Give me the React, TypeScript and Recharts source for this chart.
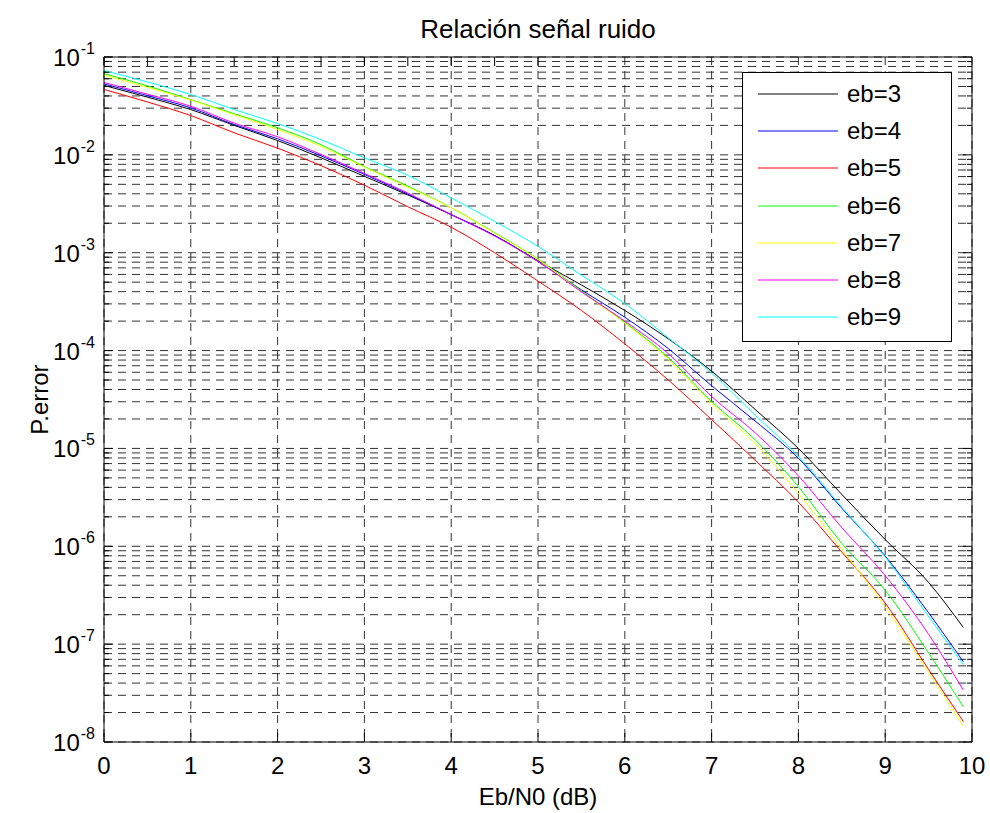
import React from "react";
import { LineChart, Line, XAxis, YAxis, CartesianGrid, Legend, Label } from "recharts";

// Eb/N0 (dB) sample points
const ebNo = [0, 0.5, 1, 1.5, 2, 2.5, 3, 3.5, 4, 4.5, 5, 5.5, 6, 6.5, 7, 7.5, 8, 8.5, 9, 9.5, 9.9];

// error probability per curve
const eb3 = [0.0513, 0.0389, 0.029, 0.02, 0.014, 0.00933, 0.00603, 0.00389, 0.00245, 0.0015, 8.3e-4, 4.68e-4, 2.57e-4, 1.32e-4, 6.17e-5, 2.51e-5, 1.0e-5, 3.39e-6, 1.17e-6, 4.27e-7, 1.48e-7];
const eb4 = [0.0531, 0.0403, 0.0302, 0.0204, 0.0146, 0.00977, 0.00631, 0.00398, 0.00245, 0.0015, 8.13e-4, 4.17e-4, 2.19e-4, 1.05e-4, 4.37e-5, 1.91e-5, 7.94e-6, 2.45e-6, 7.94e-7, 2.09e-7, 6.61e-8];
const eb5 = [0.0466, 0.0347, 0.0252, 0.0168, 0.0117, 0.00776, 0.0049, 0.00295, 0.00182, 0.001, 5.13e-4, 2.57e-4, 1.17e-4, 5.01e-5, 1.97e-5, 7.59e-6, 2.82e-6, 8.71e-7, 2.63e-7, 5.5e-8, 1.62e-8];
const eb6 = [0.0676, 0.0507, 0.0367, 0.0263, 0.0189, 0.0127, 0.00759, 0.00479, 0.00288, 0.0016, 8.6e-4, 4.07e-4, 1.95e-4, 8.51e-5, 3.02e-5, 1.23e-5, 4.07e-6, 1.07e-6, 3.55e-7, 8.13e-8, 2.29e-8];
const eb7 = [0.0652, 0.049, 0.0363, 0.0257, 0.0182, 0.0122, 0.0075, 0.00468, 0.00288, 0.00158, 8.51e-4, 3.98e-4, 1.91e-4, 8.13e-5, 2.88e-5, 1.12e-5, 3.47e-6, 9.33e-7, 2.4e-7, 5.13e-8, 1.45e-8];
const eb8 = [0.055, 0.0417, 0.0314, 0.0211, 0.0153, 0.0101, 0.00646, 0.00407, 0.00245, 0.00148, 8.13e-4, 3.98e-4, 2.0e-4, 9.33e-5, 3.39e-5, 1.45e-5, 5.25e-6, 1.55e-6, 5.01e-7, 1.26e-7, 3.39e-8];
const eb9 = [0.0728, 0.0556, 0.0414, 0.029, 0.0209, 0.0143, 0.00931, 0.00617, 0.00363, 0.00209, 0.00116, 5.89e-4, 3.02e-4, 1.35e-4, 5.89e-5, 2.19e-5, 8.32e-6, 2.51e-6, 7.76e-7, 1.91e-7, 6.17e-8];

const xTicks = [0, 1, 2, 3, 4, 5, 6, 7, 8, 9, 10];
const decades = [-8, -7, -6, -5, -4, -3, -2];
const mantissas = [1, 2, 3, 4, 5, 6, 7, 8, 9];

const series = [
  { key: "eb3", name: "eb=3", color: "#000000", values: eb3 },
  { key: "eb4", name: "eb=4", color: "#0000ff", values: eb4 },
  { key: "eb5", name: "eb=5", color: "#ff0000", values: eb5 },
  { key: "eb6", name: "eb=6", color: "#00ff00", values: eb6 },
  { key: "eb7", name: "eb=7", color: "#ffff00", values: eb7 },
  { key: "eb8", name: "eb=8", color: "#ff00ff", values: eb8 },
  { key: "eb9", name: "eb=9", color: "#00ffff", values: eb9 },
];

const rows = ebNo.map((x, i) => {
  const row: Record<string, number> = { x };
  series.forEach((s) => (row[s.key] = s.values[i]));
  return row;
});

const yTicks: number[] = [];
decades.forEach((d) => mantissas.forEach((m) => yTicks.push(Number((m * Math.pow(10, d)).toPrecision(3)))));
yTicks.push(0.1);

const FONT = "'Liberation Sans', Arial, Helvetica, sans-serif";
const Y_MARGIN = 9;
const X_MARGIN = 15;

const isMajor = (v: number) => {
  const e = Math.log10(v);
  return Math.abs(e - Math.round(e)) < 1e-6;
};

const LeftTick = (props: any) => {
  const { x, y, payload } = props;
  const major = isMajor(payload.value);
  const ax = x + Y_MARGIN;
  return (
    <g>
      <line x1={ax} x2={ax + (major ? 9 : 5)} y1={y} y2={y} stroke="#000" />
      {major && (
        <text x={x} y={y + 9} textAnchor="end" fontFamily={FONT} fontSize={24} fill="#000">
          <tspan>10</tspan>
          <tspan dx={1} dy={-12} fontSize={16}>{String(Math.round(Math.log10(payload.value)))}</tspan>
        </text>
      )}
    </g>
  );
};

const RightTick = (props: any) => {
  const { x, y, payload } = props;
  const major = isMajor(payload.value);
  return <line x1={x} x2={x - (major ? 9 : 5)} y1={y} y2={y} stroke="#000" />;
};

const BottomTick = (props: any) => {
  const { x, y, payload } = props;
  const ay = y - X_MARGIN;
  return (
    <g>
      <line x1={x} x2={x} y1={ay} y2={ay - 9} stroke="#000" />
      <text x={x} y={y} dy="0.71em" textAnchor="middle" fontFamily={FONT} fontSize={24} fill="#000">
        {payload.value}
      </text>
    </g>
  );
};

const TopTick = (props: any) => {
  const { x, y } = props;
  return <line x1={x} x2={x} y1={y} y2={y + 9} stroke="#000" />;
};

const LegendBox = (props: any) => {
  const items = props.payload && props.payload.length ? props.payload : series.map((s) => ({ value: s.name, color: s.color }));
  return (
    <div
      style={{
        width: 210,
        height: 270,
        boxSizing: "border-box",
        border: "1px solid #000",
        background: "#fff",
        paddingTop: 2,
        fontFamily: FONT,
        fontSize: 24,
        color: "#000",
      }}
    >
      {items.map((it: any) => (
        <div key={it.value} style={{ display: "flex", alignItems: "center", height: 37.3 }}>
          <svg width={104} height={10} style={{ display: "block" }}>
            <line x1={15} x2={95} y1={5} y2={5} stroke={it.color} strokeWidth={1} />
          </svg>
          <span style={{ lineHeight: "24px" }}>{it.value}</span>
        </div>
      ))}
    </div>
  );
};

export default function App() {
  return (
    <div style={{ position: "absolute", left: 0, top: 0, width: 990, height: 813, background: "#fff" }}>
      <LineChart width={990} height={813} data={rows} margin={{ top: 0, right: 0, bottom: 0, left: 0 }}>
        <CartesianGrid stroke="#333" strokeDasharray="8 6" />
        <XAxis
          dataKey="x"
          type="number"
          domain={[0, 10]}
          ticks={xTicks}
          allowDataOverflow
          height={71}
          stroke="#000"
          tickSize={0}
          tickMargin={X_MARGIN}
          tick={<BottomTick />}
          interval={0}
        >
          <Label value="Eb/N0 (dB)" position="insideBottom" offset={8} fontSize={24} fill="#000" fontFamily={FONT} />
        </XAxis>
        <XAxis
          xAxisId="top"
          orientation="top"
          type="number"
          domain={[0, 10]}
          ticks={xTicks}
          allowDataOverflow
          height={57}
          stroke="#000"
          tickSize={0}
          tickMargin={0}
          tick={<TopTick />}
          interval={0}
        >
          <Label value="Relación señal ruido" position="insideTop" offset={20} fontSize={26} fill="#000" fontFamily={FONT} />
        </XAxis>
        <YAxis
          scale="log"
          domain={[1e-8, 0.1]}
          ticks={yTicks}
          allowDataOverflow
          width={104}
          stroke="#000"
          tickSize={0}
          tickMargin={Y_MARGIN}
          tick={<LeftTick />}
          interval={0}
        >
          <Label
            content={(p: any) => {
              const vb = p.viewBox;
              const cx = vb.x + 40;
              const cy = vb.y + vb.height / 2;
              return (
                <text x={cx} y={cy} transform={`rotate(-90 ${cx} ${cy})`} textAnchor="middle" dy="0.35em" fontFamily={FONT} fontSize={24} fill="#000">
                  P.error
                </text>
              );
            }}
          />
        </YAxis>
        <YAxis
          yAxisId="right"
          orientation="right"
          scale="log"
          domain={[1e-8, 0.1]}
          ticks={yTicks}
          allowDataOverflow
          width={18}
          stroke="#000"
          tickSize={0}
          tickMargin={0}
          tick={<RightTick />}
          interval={0}
        />
        <Legend
          layout="vertical"
          align="center"
          verticalAlign="middle"
          content={<LegendBox />}
          wrapperStyle={{ left: 742, top: 72, width: 210, height: 270 }}
        />
        {series.map((s) => (
          <Line
            key={s.key}
            dataKey={s.key}
            name={s.name}
            stroke={s.color}
            strokeWidth={1}
            dot={false}
            type="monotone"
            isAnimationActive={false}
          />
        ))}
      </LineChart>
    </div>
  );
}
